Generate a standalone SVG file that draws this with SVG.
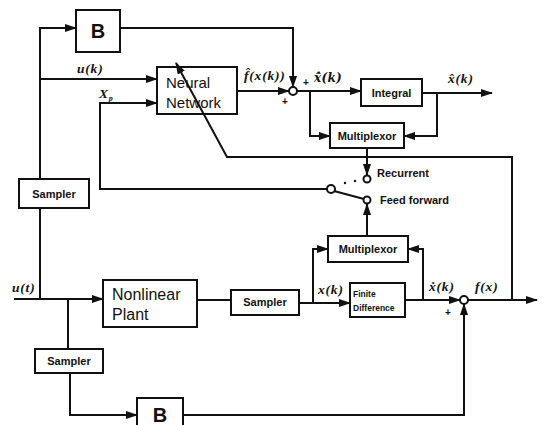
<svg xmlns="http://www.w3.org/2000/svg" width="544" height="425" viewBox="0 0 544 425">
<style>
.box{fill:#fff;stroke:#111;stroke-width:2}
.ln{fill:none;stroke:#111;stroke-width:2}
.arr{marker-end:url(#ah)}
.lbl{font-family:"Liberation Sans",Arial,sans-serif;font-weight:bold;fill:#111}
.reg{font-weight:normal}
.math{font-family:"Liberation Serif","Times New Roman",serif;font-style:italic;font-weight:bold;font-size:13.5px;letter-spacing:0.8px;fill:#111}
.dj{font-family:"DejaVu Serif",serif;font-size:12px;letter-spacing:0.3px}
.node{fill:#fff;stroke:#111;stroke-width:2}
</style>
<defs>
<marker id="ah" viewBox="0 0 12 8" refX="11" refY="4" markerWidth="12" markerHeight="8" markerUnits="userSpaceOnUse" orient="auto">
<path d="M0,0 L12,4 L0,8 Z" fill="#111"/>
</marker>
</defs>
<rect width="544" height="425" fill="#fff"/>
<g id="B_top"><rect class="box" x="76" y="10" width="44" height="42"/><text class="lbl" x="98" y="38" font-size="20" text-anchor="middle">B</text></g>
<g id="neural_network"><rect class="box" x="157" y="67" width="80" height="47"/><text class="lbl reg" x="166" y="88" font-size="15">Neural</text><text class="lbl reg" x="166" y="108" font-size="15">Network</text></g>
<g id="sum_top"><circle class="node" cx="293" cy="91" r="4"/><text class="lbl" x="303" y="86" font-size="10">+</text><text class="lbl" x="282" y="105" font-size="10">+</text></g>
<g id="integral"><rect class="box" x="361" y="79" width="61" height="27"/><text class="lbl" x="391.5" y="97" font-size="11" text-anchor="middle">Integral</text></g>
<g id="mux_top"><rect class="box" x="330" y="123" width="74" height="25"/><text class="lbl" x="367" y="140" font-size="11" text-anchor="middle">Multiplexor</text></g>
<g id="switch"><circle class="node" cx="367" cy="179" r="3.5"/><circle class="node" cx="331" cy="189" r="4"/><circle class="node" cx="367" cy="200" r="3.5"/><text class="lbl" x="377" y="177" font-size="11">Recurrent</text><text class="lbl" x="380" y="204" font-size="11">Feed forward</text></g>
<g id="sampler_left"><rect class="box" x="19" y="179" width="70" height="29"/><text class="lbl" x="54" y="198" font-size="11" text-anchor="middle">Sampler</text></g>
<g id="mux_bottom"><rect class="box" x="328" y="236" width="80" height="26"/><text class="lbl" x="368" y="253" font-size="11" text-anchor="middle">Multiplexor</text></g>
<g id="plant"><rect class="box" x="103" y="280" width="94" height="47"/><text class="lbl reg" x="112" y="300" font-size="16">Nonlinear</text><text class="lbl reg" x="112" y="320" font-size="16">Plant</text></g>
<g id="sampler_mid"><rect class="box" x="231" y="290" width="68" height="25"/><text class="lbl" x="265" y="306" font-size="11" text-anchor="middle">Sampler</text></g>
<g id="finite_difference"><rect class="box" x="350" y="283" width="55" height="34"/><text class="lbl" x="353" y="297" font-size="8.5">Finite</text><text class="lbl" x="353" y="311" font-size="8.5">Difference</text></g>
<g id="sum_bottom"><circle class="node" cx="464" cy="300" r="4"/><text class="lbl" x="445" y="316" font-size="10">+</text></g>
<g id="sampler_low"><rect class="box" x="35" y="349" width="68" height="24"/><text class="lbl" x="69" y="365" font-size="11" text-anchor="middle">Sampler</text></g>
<g id="B_bottom"><rect class="box" x="137" y="398" width="46" height="32"/><text class="lbl" x="160" y="422" font-size="20" text-anchor="middle">B</text></g>
<g id="connectors">
<path class="ln" d="M40,299 L40,208"/>
<path class="ln arr" d="M40,179 L40,28 L76,28"/>
<path class="ln arr" d="M40,79 L157,79"/>
<path class="ln arr" d="M120,28 L293,28 L293,87"/>
<path class="ln arr" d="M237,91 L289,91"/>
<path class="ln arr" d="M297,91 L361,91"/>
<path class="ln arr" d="M310,91 L310,136 L330,136"/>
<path class="ln arr" d="M422,93 L492,93"/>
<path class="ln arr" d="M437,93 L437,136 L404,136"/>
<path class="ln arr" d="M367,148 L367,175"/>
<path class="ln arr" d="M512,300 L512,157 L227,157 L176,63"/>
<path class="ln arr" d="M327,189 L100,189 L100,103 L157,103"/>
<path class="ln" d="M334,191 L364,199"/>
<path class="ln arr" d="M367,236 L367,204"/>
<path class="ln arr" d="M313,303 L313,249 L328,249"/>
<path class="ln arr" d="M423,300 L423,249 L408,249"/>
<path class="ln arr" d="M14,299 L103,299"/>
<path class="ln" d="M68,299 L68,349"/>
<path class="ln arr" d="M70,373 L70,415 L137,415"/>
<path class="ln arr" d="M183,415 L464,415 L464,304"/>
<path class="ln" d="M197,300 L231,300"/>
<path class="ln arr" d="M299,303 L350,303"/>
<path class="ln arr" d="M405,300 L460,300"/>
<path class="ln arr" d="M468,300 L537,300"/>
<circle cx="345" cy="183" r="1.2" fill="#111"/>
<circle cx="355" cy="181" r="1.2" fill="#111"/>
</g>
<g id="labels">
<text class="math" x="77" y="73">u(k)</text>
<text class="math" x="99" y="98">X<tspan font-size="8" dy="3">p</tspan></text>
<text class="math" x="244" y="80">f̂(x(k))</text>
<text class="math dj" x="314" y="82">ẋ̂(k)</text>
<text class="math" x="448" y="83">x̂(k)</text>
<text class="math" x="12" y="292">u(t)</text>
<text class="math" x="318" y="294">x(k)</text>
<text class="math" x="429" y="291">ẋ(k)</text>
<text class="math" x="475" y="291">f(x)</text>
</g>
</svg>
